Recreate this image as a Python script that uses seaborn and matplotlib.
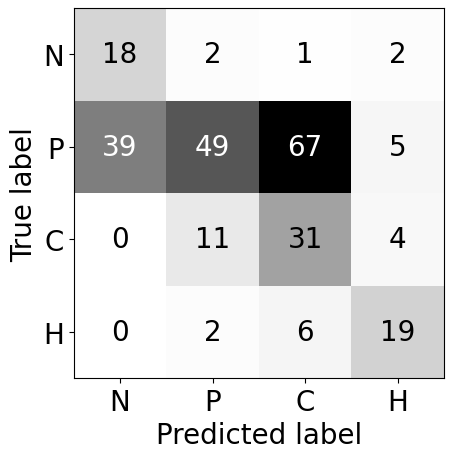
import numpy as np
import pandas as pd
import matplotlib
matplotlib.use("Agg")
import matplotlib.pyplot as plt
import seaborn as sns

classes = ["N", "P", "C", "H"]
row_N = [18, 2, 1, 2]
row_P = [39, 49, 67, 5]
row_C = [0, 11, 31, 4]
row_H = [0, 2, 6, 19]

cm = pd.DataFrame([row_N, row_P, row_C, row_H], index=classes, columns=classes)

plt.rcParams["font.family"] = ["DejaVu Sans"]

fig = plt.figure(figsize=(4.53, 4.60), dpi=100)
ax = fig.add_axes([0.163, 0.176, 0.817, 0.804])

sns.heatmap(cm, annot=True, fmt="d", cmap="Greys", cbar=False, ax=ax,
            vmin=cm.values.min(), vmax=cm.values.max(),
            annot_kws={"fontsize": 20})

# sklearn-style text colour: white above the midpoint of the range
thresh = (cm.values.max() + cm.values.min()) / 2.0
for text in ax.texts:
    val = int(text.get_text())
    text.set_color("white" if val > thresh else "black")

for spine in ax.spines.values():
    spine.set_visible(True)
    spine.set_color("black")
    spine.set_linewidth(0.8)

ax.tick_params(axis="both", labelsize=20, length=3.5, width=0.8, left=True, bottom=True)
ax.set_yticklabels(classes, rotation=0, va="center_baseline")
ax.set_xticklabels(classes, rotation=0)
ax.set_xlabel("Predicted label", fontsize=20)
ax.set_ylabel("True label", fontsize=20)

fig.savefig("out.png", dpi=100)
